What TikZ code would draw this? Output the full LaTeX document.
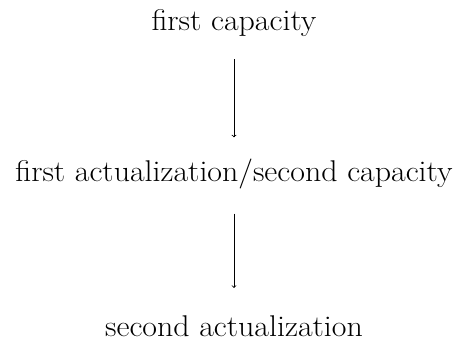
\documentclass[tikz,border=0pt]{standalone}
\usepackage{fontspec}
\setmainfont{Latin Modern Roman}[FakeStretch=1.063]
\begin{document}
\begin{tikzpicture}[x=1pt,y=1pt,
  lbl/.style={anchor=base,inner sep=0pt,font=\fontsize{30}{36}\selectfont},
  arr/.style={->,line width=0.8pt}]
\useasboundingbox (0,0) rectangle (459,-341);
\node[lbl] (a) at (234,-30) {first capacity};
\node[lbl] (b) at (234,-181) {first actualization/second capacity};
\node[lbl] (c) at (234,-336) {second actualization};
\draw[arr,shorten <=23pt,shorten >=21pt] (a.south) -- (b.north);
\draw[arr,shorten <=25pt,shorten >=27pt] (b.south) -- (c.north);
\end{tikzpicture}
\end{document}
